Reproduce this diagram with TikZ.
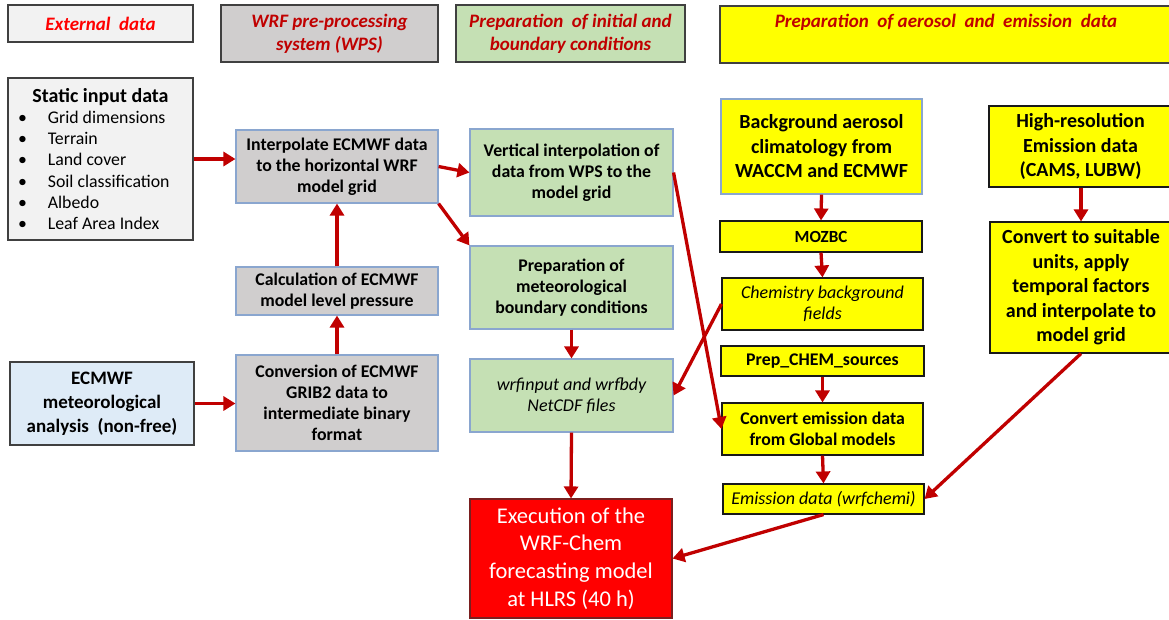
\documentclass[tikz,border=0pt]{standalone}
\usepackage{fontspec}
\setmainfont{Carlito}
\usetikzlibrary{arrows.meta}
\definecolor{arr}{HTML}{C00000}
\definecolor{hred}{HTML}{C00000}
\definecolor{bred}{HTML}{FF0000}
\definecolor{gfill}{HTML}{D0CECE}
\definecolor{lfill}{HTML}{F2F2F2}
\definecolor{grfill}{HTML}{C5E0B4}
\definecolor{bfill}{HTML}{DEEBF7}
\definecolor{yfill}{HTML}{FFFF00}
\definecolor{bblue}{HTML}{8AA6CF}
\definecolor{bdark}{HTML}{404040}
\definecolor{bexec}{HTML}{7A1F1F}
\newcommand\mybox[7]{\node[#2, minimum width={#5-#3}, minimum height={#6-#4}] (#1) at ({(#3+#5)/2},{-(#4+#6)/2}) {#7};}
\begin{document}
\begin{tikzpicture}[x=1pt,y=1pt,
  base/.style={draw, line width=1.1pt, align=center, inner sep=1pt, text=black},
  std/.style={base, font=\fontsize{17.8}{21}\selectfont\bfseries},
  ital/.style={base, font=\fontsize{18}{21}\selectfont\itshape},
  big/.style={base, font=\fontsize{20}{24.5}\selectfont\bfseries},
  hdr/.style={draw=bdark, line width=1.5pt, align=center, inner sep=1pt, text=hred,
     font=\fontsize{19}{23}\selectfont\bfseries\itshape},
  grayb/.style={fill=gfill, draw=bblue},
  greenb/.style={fill=grfill, draw=bblue},
  yelb/.style={fill=yfill, draw=black!90},
  flow/.style={draw=arr, line width=3.3pt, -{Triangle[length=12pt,width=14pt]}}
]
\useasboundingbox (0,0) rectangle (1169,-619);

% headers
\mybox{hext}{hdr, fill=lfill, text=bred}{8}{5}{193}{42}{External \ data}
\mybox{hwps}{hdr, fill=gfill}{221}{5}{438}{62}{WRF pre-processing\\system (WPS)}
\mybox{hinit}{hdr, fill=grfill}{456}{5}{685}{62}{Preparation \ of initial and\\boundary conditions}
\mybox{haer}{hdr, fill=yfill}{720}{6}{1172}{63}{}
\node[hdr, draw=none, fill=none] (haert) at (946,-22) {Preparation \ of aerosol \ and \ emission \ data};

% left column
\mybox{static}{base, fill=lfill, draw=bdark, align=left, inner xsep=0pt, font=\fontsize{17.8}{21.2}\selectfont}{8}{78}{193}{240}{%
\makebox[185pt][c]{\fontsize{20}{21.2}\selectfont\bfseries Static input data}\\
\hspace*{10pt}\textbullet\hspace{21pt}Grid dimensions\\
\hspace*{10pt}\textbullet\hspace{21pt}Terrain\\
\hspace*{10pt}\textbullet\hspace{21pt}Land cover\\
\hspace*{10pt}\textbullet\hspace{21pt}Soil classification\\
\hspace*{10pt}\textbullet\hspace{21pt}Albedo\\
\hspace*{10pt}\textbullet\hspace{21pt}Leaf Area Index}
\mybox{ecmwf}{std, fill=bfill, draw=bdark, font=\fontsize{19}{24}\selectfont\bfseries}{10}{362}{194}{445}{ECMWF\\meteorological\\analysis \ (non-free)}

% WPS column
\mybox{interp}{std, grayb}{236}{130}{438}{203}{Interpolate ECMWF data\\to the horizontal WRF\\model grid}
\mybox{calc}{std, grayb}{236}{267}{438}{315}{Calculation of ECMWF\\model level pressure}
\mybox{conv}{std, grayb}{236}{355}{438}{451}{Conversion of ECMWF\\GRIB2 data to\\intermediate binary\\format}

% init column
\mybox{vert}{std, greenb}{470}{129}{673}{216}{Vertical interpolation of\\data from WPS to the\\model grid}
\mybox{prepmet}{std, greenb}{470}{246}{673}{329}{Preparation of\\meteorological\\boundary conditions}
\mybox{wrfin}{ital, greenb}{470}{359}{673}{432}{wrfinput and wrfbdy\\NetCDF files}
\mybox{exec}{base, fill=bred, draw=bexec, text=white, font=\fontsize{22.5}{27.7}\selectfont}{470}{499}{672}{618}{Execution of the\\WRF-Chem\\forecasting model\\at HLRS (40 h)}

% aerosol column
\mybox{bg}{big, fill=yfill, draw=bblue}{721}{99}{922}{194}{Background aerosol\\climatology from\\WACCM and ECMWF}
\mybox{mozbc}{std, yelb, font=\fontsize{17}{21}\selectfont\bfseries}{720}{221}{922}{252}{MOZBC}
\mybox{chembg}{ital, yelb}{722}{278}{923}{330}{Chemistry background\\fields}
\mybox{prepchem}{std, yelb}{721}{346}{924}{376}{Prep\_CHEM\_sources}
\mybox{convem}{std, yelb}{722}{403}{923}{455}{Convert emission data\\from Global models}
\mybox{emis}{ital, yelb}{723}{484}{924}{514}{Emission data (wrfchemi)}
\mybox{hires}{big, yelb}{989}{106}{1172}{187}{High-resolution\\Emission data\\(CAMS, LUBW)}
\mybox{convu}{big, yelb}{990}{222}{1172}{353}{Convert to suitable\\units, apply\\temporal factors\\and interpolate to\\model grid}

% connectors
\draw[flow] (static.east) -- (static.east -| interp.west);
\draw[flow] (interp.east) -- (vert.west);
\draw[flow] (interp.south east) -- (prepmet.north west);
\draw[flow] (calc.north) -- (interp.south);
\draw[flow] (conv.north) -- (calc.south);
\draw[flow] (ecmwf.east) -- (ecmwf.east -| conv.west);
\draw[flow] (prepmet.south) -- (wrfin.north);
\draw[flow] (wrfin.south) -- (exec.north);
\draw[flow] (vert.east) -- (convem.west);
\draw[flow] (chembg.west) -- (wrfin.east);
\draw[flow] (bg.south) -- (mozbc.north);
\draw[flow] (mozbc.south) -- (chembg.north);
\draw[flow] (prepchem.south) -- (convem.north);
\draw[flow] (convem.south) -- (emis.north);
\draw[flow] (emis.south) -- (exec.east);
\draw[flow] (hires.south -| convu.north) -- (convu.north);
\draw[flow] (convu.south) -- (emis.east);
\end{tikzpicture}
\end{document}
